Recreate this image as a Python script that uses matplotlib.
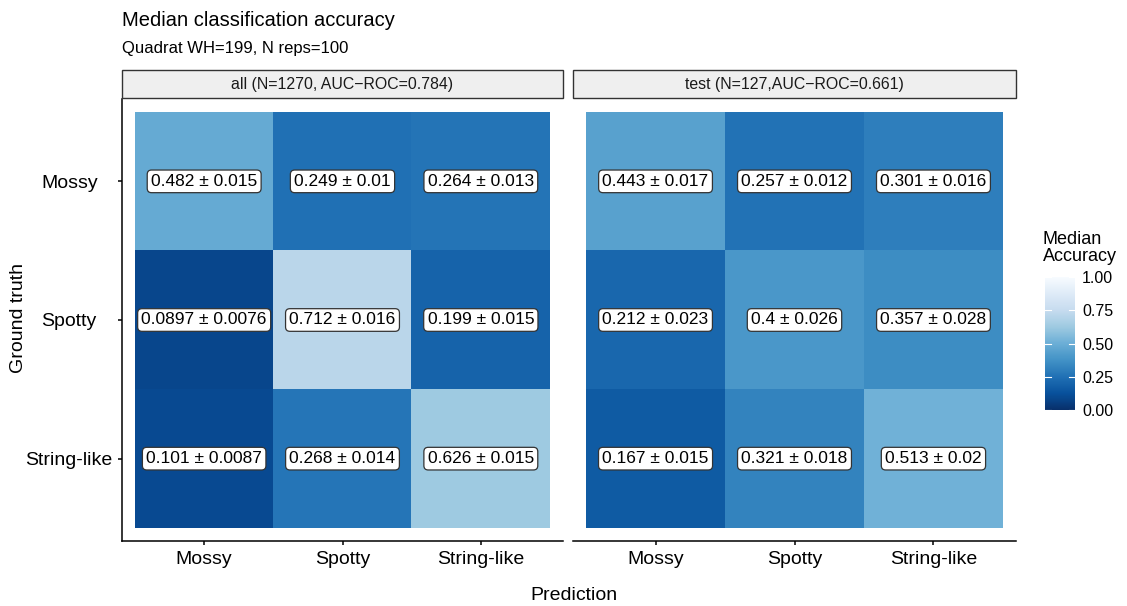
import matplotlib.pyplot as plt
from matplotlib.patches import Rectangle
import numpy as np

plt.rcParams['font.family'] = ['Liberation Sans', 'DejaVu Sans']

classes = ['Mossy', 'Spotty', 'String-like']
panel_titles = ['all (N=1270, AUC\u2212ROC=0.784)', 'test (N=127,AUC\u2212ROC=0.661)']

# rows = ground truth, columns = prediction
all_median = [[0.482, 0.249, 0.264],
              [0.0897, 0.712, 0.199],
              [0.101, 0.268, 0.626]]
all_err = [[0.015, 0.01, 0.013],
           [0.0076, 0.016, 0.015],
           [0.0087, 0.014, 0.015]]
test_median = [[0.443, 0.257, 0.301],
               [0.212, 0.4, 0.357],
               [0.167, 0.321, 0.513]]
test_err = [[0.017, 0.012, 0.016],
            [0.023, 0.026, 0.028],
            [0.015, 0.018, 0.02]]

cbar_ticks = [0.0, 0.25, 0.5, 0.75, 1.0]

W, H = 1127, 606
fig = plt.figure(figsize=(W / 100, H / 100), dpi=100)

def fx(px):
    return px / W

def fy(py):
    return 1 - py / H

panels = [(122, 563), (573, 1016)]
top_px, bot_px = 99, 541
pad = 0.094
cmap = plt.get_cmap('Blues_r')

for i, (med, err) in enumerate([(all_median, all_err), (test_median, test_err)]):
    l, r = panels[i]
    ax = fig.add_axes([fx(l), fy(bot_px), fx(r - l), (bot_px - top_px) / H])
    med = np.array(med)
    err = np.array(err)
    im = ax.imshow(med, cmap=cmap, vmin=0, vmax=1, aspect='auto',
                   interpolation='nearest')
    ax.set_xlim(-0.5 - pad, 2.5 + pad)
    ax.set_ylim(2.5 + pad, -0.5 - pad)
    for r_i in range(3):
        for c_i in range(3):
            ax.text(c_i, r_i, '{:.3g} \u00b1 {:.3g}'.format(med[r_i, c_i], err[r_i, c_i]),
                    ha='center', va='center', fontsize=12.5, color='black',
                    bbox=dict(boxstyle='round,pad=0.22,rounding_size=0.25',
                              fc='white', ec='#333333', lw=0.9))
    ax.set_xticks(range(3))
    ax.set_xticklabels(classes, fontsize=14)
    ax.set_yticks(range(3))
    for s in ['top', 'right']:
        ax.spines[s].set_visible(False)
    ax.spines['bottom'].set_linewidth(1.1)
    ax.spines['left'].set_linewidth(1.1)
    ax.tick_params(axis='x', length=3, width=1.1, pad=4)
    if i == 0:
        ax.set_yticklabels(classes, fontsize=14, ha='center')
        ax.tick_params(axis='y', length=3, width=1.1, pad=35)
    else:
        ax.spines['left'].set_visible(False)
        ax.tick_params(axis='y', left=False, labelleft=False)

    # facet strip
    fig.patches.append(Rectangle((fx(l), fy(98)), fx(r - l), (98 - 70) / H,
                                 transform=fig.transFigure, fc='#efefef',
                                 ec='#333333', lw=1.0))
    fig.text(fx((l + r) / 2), fy(84), panel_titles[i], ha='center', va='center',
             fontsize=11.4, color='#1a1a1a')

fig.text(fx(122), fy(20), 'Median classification accuracy', fontsize=14.5,
         ha='left', va='center')
fig.text(fx(122), fy(48), 'Quadrat WH=199, N reps=100', fontsize=12,
         ha='left', va='center')
fig.text(fx(574), fy(595), 'Prediction', fontsize=14, ha='center', va='center')
fig.text(fx(19), fy(318), 'Ground truth', fontsize=14, ha='center', va='center',
         rotation=90)

# colour bar
cax = fig.add_axes([fx(1045), fy(410), fx(30), (410 - 277) / H])
cb = fig.colorbar(im, cax=cax, ticks=cbar_ticks)
cb.outline.set_visible(False)
cb.ax.set_yticklabels(['{:.2f}'.format(t) for t in cbar_ticks], fontsize=11.5)
cb.ax.tick_params(length=0, pad=5)
for t in cbar_ticks:
    cax.plot([0, 0.2], [t, t], color='white', lw=0.8, transform=cax.get_yaxis_transform())
    cax.plot([0.8, 1], [t, t], color='white', lw=0.8, transform=cax.get_yaxis_transform())
fig.text(fx(1043), fy(248), 'Median\nAccuracy', fontsize=13, ha='left',
         va='center', linespacing=0.95)

fig.savefig('out.png', dpi=100)
